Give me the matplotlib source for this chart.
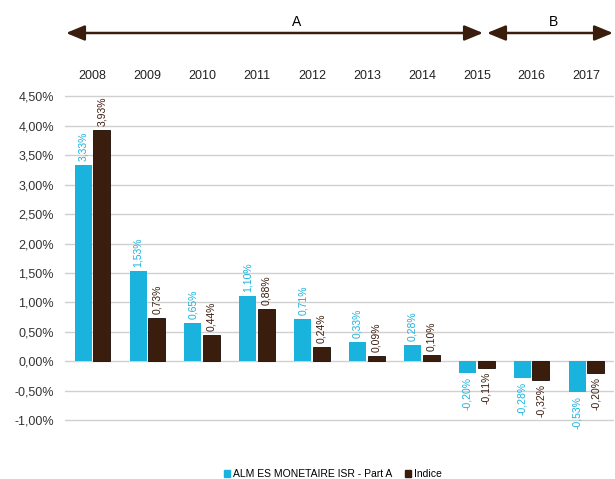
import matplotlib.pyplot as plt
import numpy as np

plt.rcParams["font.family"] = ["Liberation Sans", "DejaVu Sans"]

years = ["2008", "2009", "2010", "2011", "2012", "2013", "2014", "2015", "2016", "2017"]
fonds = [3.33, 1.53, 0.65, 1.10, 0.71, 0.33, 0.28, -0.20, -0.28, -0.53]
indice = [3.93, 0.73, 0.44, 0.88, 0.24, 0.09, 0.10, -0.11, -0.32, -0.20]
yticks = [-1.0, -0.5, 0.0, 0.5, 1.0, 1.5, 2.0, 2.5, 3.0, 3.5, 4.0, 4.5]

blue = "#1ab3de"
brown = "#3b1d0e"

fig = plt.figure(figsize=(6.15, 4.79), dpi=100)
ax = fig.add_axes([65 / 615, 1 - 440 / 479, 549 / 615, 350 / 479])

x = np.arange(len(years))
w = 0.31
ax.bar(x - 0.17, fonds, w, color=blue, zorder=3)
ax.bar(x + 0.17, indice, w, color=brown, edgecolor="#1a0a04", linewidth=0.6, zorder=3)

def fmt(v):
    return ("%.2f%%" % v).replace(".", ",")

for i in range(len(years)):
    for off, v, c in [(-0.17, fonds[i], blue), (0.17, indice[i], brown)]:
        if v >= 0:
            ax.annotate(fmt(v), (x[i] + off, v), xytext=(0, 3), textcoords="offset points",
                        rotation=90, ha="center", va="bottom", fontsize=7.5, color=c)
        else:
            ax.annotate(fmt(v), (x[i] + off, v), xytext=(0, -3), textcoords="offset points",
                        rotation=90, ha="center", va="top", fontsize=7.5, color=c)

ax.set_xlim(-0.5, len(years) - 0.5)
ax.set_ylim(-1.34, 4.61)
ax.set_yticks(yticks)
ax.set_yticklabels([("%.2f%%" % t).replace(".", ",") for t in yticks], fontsize=9, color="#333333")
ax.set_xticks(x)
ax.set_xticklabels(years, fontsize=9, color="#222222")
ax.xaxis.tick_top()
ax.tick_params(axis="both", length=0)
ax.tick_params(axis="x", pad=6)
ax.tick_params(axis="y", pad=8)
ax.grid(axis="y", color="#d0d0d0", linewidth=1, zorder=0)
for s in ax.spines.values():
    s.set_visible(False)

# period arrows
ay = 1 - 33 / 479
arrow = dict(arrowstyle="<|-|>,head_length=0.8,head_width=0.33", color=brown, lw=1.8,
             mutation_scale=14, shrinkA=0, shrinkB=0)
ax.annotate("", xy=(66 / 615, ay), xytext=(483 / 615, ay), xycoords="figure fraction", arrowprops=arrow)
ax.annotate("", xy=(487 / 615, ay), xytext=(613 / 615, ay), xycoords="figure fraction", arrowprops=arrow)
fig.text(297 / 615, 1 - 22 / 479, "A", ha="center", va="center", fontsize=10)
fig.text(553 / 615, 1 - 22 / 479, "B", ha="center", va="center", fontsize=10)

leg = fig.legend(handles=[plt.Rectangle((0, 0), 1, 1, color=blue), plt.Rectangle((0, 0), 1, 1, color=brown)],
                 labels=["ALM ES MONETAIRE ISR - Part A", "Indice"], loc="center",
                 bbox_to_anchor=(333 / 615, 1 - 474 / 479), ncol=2, frameon=False, fontsize=7.5,
                 handlelength=0.6, handleheight=0.6, handletextpad=0.3, columnspacing=1.2)

fig.savefig("out.png", dpi=100)
